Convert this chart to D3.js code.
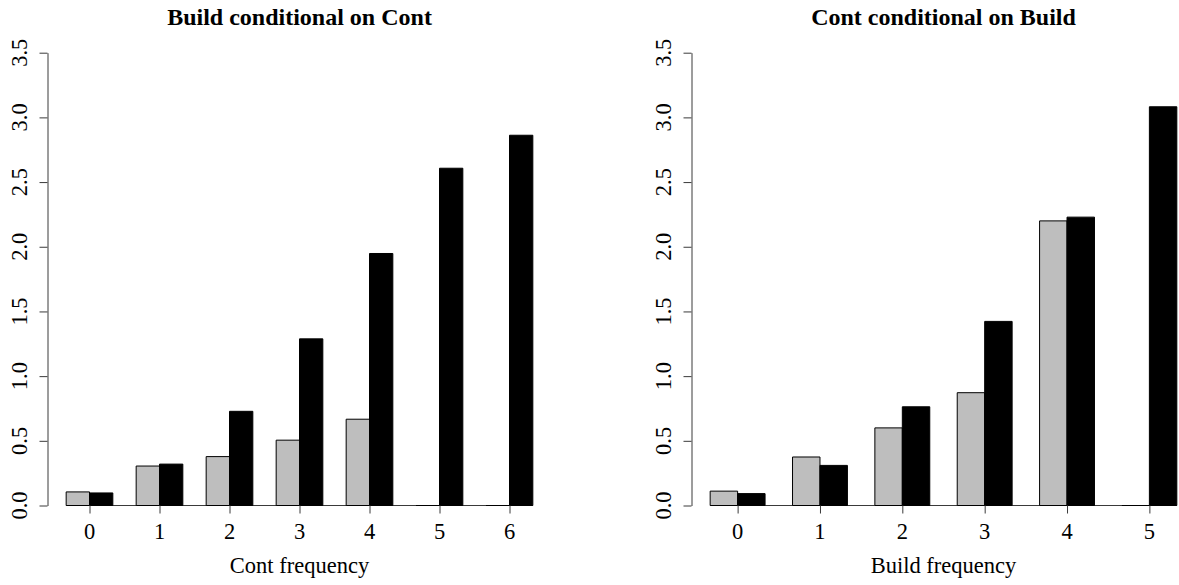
<!DOCTYPE html>
<html>
<head>
<meta charset="utf-8">
<script src="https://cdn.jsdelivr.net/npm/d3@7"></script>
<style>
  html, body { margin: 0; padding: 0; background: #fff; }
  svg { display: block; }
  text { font-family: "Liberation Serif", "Times New Roman", serif; fill: #000; }
</style>
</head>
<body>
<svg id="chart" width="1179" height="585"></svg>
<script>
// ---- data ----
const buildCategories = ["0", "1", "2", "3", "4", "5", "6"];
const buildGray  = [0.105, 0.305, 0.378, 0.505, 0.667, 0, 0];
const buildBlack = [0.097, 0.320, 0.728, 1.288, 1.948, 2.607, 2.862];

const contCategories = ["0", "1", "2", "3", "4", "5"];
const contGray  = [0.111, 0.375, 0.600, 0.872, 2.200, 0];
const contBlack = [0.092, 0.310, 0.763, 1.423, 2.229, 3.082];

const yTicks = [0, 0.5, 1.0, 1.5, 2.0, 2.5, 3.0, 3.5];

const panels = [
  { title: "Build conditional on Cont", xlab: "Cont frequency",
    cats: buildCategories, gray: buildGray, black: buildBlack, left: 47.5 },
  { title: "Cont conditional on Build", xlab: "Build frequency",
    cats: contCategories, gray: contGray, black: contBlack, left: 691.5 }
];

// ---- drawing ----
const svg = d3.select("#chart");
const plotW = 504;
const y = d3.scaleLinear().domain([0, 3.5]).range([505.5, 52.7]);
const axisColor = "#3a3a3a";

panels.forEach(p => {
  const n = p.cats.length;
  const lo = 1, hi = 3 * n;             // R barplot: space=c(0,1), width 1
  const ext = (hi - lo) * 0.04;
  const x = d3.scaleLinear().domain([lo - ext, hi + ext]).range([p.left, p.left + plotW]);
  const g = svg.append("g");

  // baseline under the bars
  g.append("line")
    .attr("x1", x(lo)).attr("x2", x(hi))
    .attr("y1", y(0)).attr("y2", y(0))
    .attr("stroke", axisColor).attr("stroke-width", 1);

  const bars = [];
  p.cats.forEach((c, i) => {
    bars.push({ x0: 1 + 3 * i, v: p.gray[i], fill: "#BEBEBE" });
    bars.push({ x0: 2 + 3 * i, v: p.black[i], fill: "#000000" });
  });

  g.selectAll("path.bar").data(bars).enter().append("path")
    .attr("class", "bar")
    .attr("d", d => {
      const x0 = x(d.x0), x1 = x(d.x0 + 1), y0 = y(0), y1 = y(d.v);
      return `M${x0},${y0}H${x1}V${y1}H${x0}Z`;
    })
    .attr("fill", d => d.fill)
    .attr("stroke", "#000")
    .attr("stroke-width", 1);

  // y axis
  const yAxis = d3.axisLeft(y).tickValues(yTicks).tickSize(8).tickSizeOuter(0).tickFormat("");
  const ya = g.append("g").attr("transform", `translate(${p.left},0)`).call(yAxis);
  ya.select(".domain").attr("stroke", axisColor);
  ya.selectAll(".tick line").attr("stroke", axisColor);

  g.selectAll("text.ytick").data(yTicks).enter().append("text")
    .attr("class", "ytick")
    .attr("transform", d => `translate(${p.left - 21},${y(d)}) rotate(-90)`)
    .attr("text-anchor", "middle")
    .style("font-size", "22.5px")
    .text(d => d3.format(".1f")(d));

  // x axis ticks at group centres
  const centers = p.cats.map((c, i) => 2 + 3 * i);
  const xAxis = d3.axisBottom(x).tickValues(centers).tickSize(8).tickFormat("");
  const xa = g.append("g").attr("transform", `translate(0,${y(0)})`).call(xAxis);
  xa.select(".domain").remove();
  xa.selectAll(".tick line").attr("stroke", axisColor);

  g.selectAll("text.xtick").data(p.cats).enter().append("text")
    .attr("class", "xtick")
    .attr("x", (d, i) => x(centers[i]))
    .attr("y", 538.5)
    .attr("text-anchor", "middle")
    .style("font-size", "22.5px")
    .text(d => d);

  const cx = p.left + plotW / 2;
  g.append("text")
    .attr("x", cx).attr("y", 572.5)
    .attr("text-anchor", "middle")
    .style("font-size", "22.5px")
    .text(p.xlab);

  g.append("text")
    .attr("x", cx).attr("y", 25)
    .attr("text-anchor", "middle")
    .style("font-size", "24px")
    .style("font-weight", "bold")
    .text(p.title);
});
</script>
</body>
</html>
